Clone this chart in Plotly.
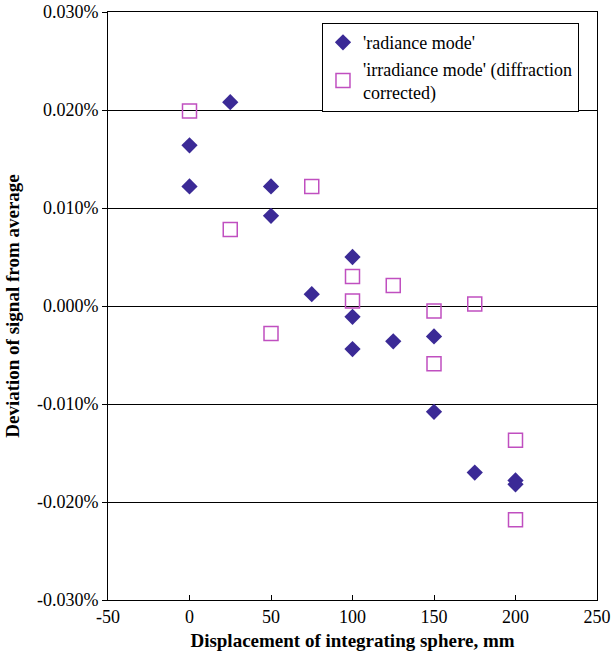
import plotly.graph_objects as go

# Radiance mode data (diamonds)
rad_x = [0, 0, 25, 50, 50, 75, 100, 100, 100, 125, 150, 150, 175, 200, 200]
rad_y = [0.0164, 0.0122, 0.0208, 0.0122, 0.0092, 0.0012, 0.0050, -0.0011, -0.0044,
         -0.0036, -0.0031, -0.0108, -0.0170, -0.0178, -0.0182]  # percent

# Irradiance mode data (open squares)
irr_x = [0, 25, 50, 75, 100, 100, 125, 150, 150, 175, 200, 200]
irr_y = [0.0199, 0.0078, -0.0028, 0.0122, 0.0030, 0.0005, 0.0021, -0.0005, -0.0059,
         0.0002, -0.0137, -0.0218]  # percent

y_tickvals = [0.03, 0.02, 0.01, 0.0, -0.01, -0.02, -0.03]
y_ticktext = ["0.030%", "0.020%", "0.010%", "0.000%", "-0.010%", "-0.020%", "-0.030%"]
x_tickvals = [-50, 0, 50, 100, 150, 200, 250]
x_ticktext = ["-50", "0", "50", "100", "150", "200", "250"]

FONT = "Liberation Serif"

fig = go.Figure()
fig.add_trace(go.Scatter(
    x=rad_x, y=rad_y, mode="markers", name="'radiance mode'",
    marker=dict(symbol="diamond", size=12.5, color="#3b2a96", line=dict(width=0)),
))
fig.add_trace(go.Scatter(
    x=irr_x, y=irr_y, mode="markers", name="'irradiance mode' (diffraction<br>corrected)",
    marker=dict(symbol="square-open", size=14, color="#c04fc0", line=dict(width=1.5, color="#c04fc0")),
))

fig.update_layout(
    width=611, height=654,
    margin=dict(l=108, r=14, t=12, b=54, autoexpand=False),
    paper_bgcolor="white", plot_bgcolor="white",
    font=dict(family=FONT, size=18, color="black"),
    showlegend=True,
    legend=dict(
        x=0.4376, y=0.981, xanchor="left", yanchor="top",
        bordercolor="black", borderwidth=1, bgcolor="white",
        font=dict(family=FONT, size=18, color="black"),
        tracegroupgap=0, itemwidth=30,
    ),
)
fig.update_xaxes(
    range=[-50, 250], tickvals=x_tickvals, ticktext=x_ticktext, automargin=False,
    showgrid=False, zeroline=False,
    showline=True, linecolor="black", linewidth=1, mirror=True,
    ticks="inside", ticklen=5, tickcolor="black",
    title=dict(text="<b>Displacement of integrating sphere, mm</b>", font=dict(family=FONT, size=19), standoff=8),
)
fig.update_yaxes(
    range=[-0.03, 0.03], tickvals=y_tickvals, ticktext=y_ticktext, automargin=False,
    showgrid=True, gridcolor="black", gridwidth=1, zeroline=False,
    showline=True, linecolor="black", linewidth=1, mirror=True,
    ticks="outside", ticklen=5, tickcolor="black",
    title=dict(text="<b>Deviation of signal from average</b>", font=dict(family=FONT, size=19), standoff=12),
)

fig.write_html("out.html", config={"displayModeBar": False},
               post_script="document.body.style.margin='0';")
